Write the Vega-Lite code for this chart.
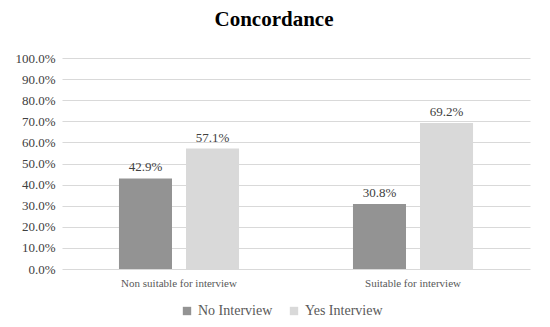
{
  "$schema": "https://vega.github.io/schema/vega-lite/v6.json",
  "width": 468,
  "height": 211,
  "autosize": {"type": "none"},
  "padding": {"left": 62, "top": 58, "right": 20, "bottom": 58},
  "background": "white",
  "title": {
    "text": "Concordance",
    "font": "Liberation Serif",
    "fontSize": 21,
    "fontWeight": "bold",
    "color": "#000000",
    "anchor": "middle",
    "dx": -22,
    "offset": 22
  },
  "data": {
    "values": [
      {"category": "Non suitable for interview", "series": "No Interview", "value": 0.429},
      {"category": "Non suitable for interview", "series": "Yes Interview", "value": 0.571},
      {"category": "Suitable for interview", "series": "No Interview", "value": 0.308},
      {"category": "Suitable for interview", "series": "Yes Interview", "value": 0.692}
    ]
  },
  "encoding": {
    "x": {
      "field": "category",
      "type": "nominal",
      "sort": null,
      "scale": {"paddingInner": 0, "paddingOuter": 0},
      "axis": {
        "title": null,
        "labelAngle": 0,
        "ticks": false,
        "domain": false,
        "labelFont": "Liberation Serif",
        "labelFontSize": 11,
        "labelColor": "#595959",
        "labelPadding": 8
      }
    },
    "xOffset": {
      "field": "series",
      "type": "nominal",
      "scale": {"paddingInner": 0.209, "paddingOuter": 0.85}
    },
    "y": {
      "field": "value",
      "type": "quantitative",
      "scale": {"domain": [0, 1]},
      "axis": {
        "title": null,
        "format": ".1%",
        "values": [0, 0.1, 0.2, 0.3, 0.4, 0.5, 0.6, 0.7, 0.8, 0.9, 1.0],
        "ticks": false,
        "domain": false,
        "gridColor": "#d9d9d9",
        "gridWidth": 1,
        "labelFont": "Liberation Serif",
        "labelFontSize": 13,
        "labelColor": "#404040",
        "labelPadding": 7
      }
    }
  },
  "layer": [
    {
      "mark": {"type": "bar"},
      "encoding": {
        "color": {
          "field": "series",
          "type": "nominal",
          "scale": {"domain": ["No Interview", "Yes Interview"], "range": ["#939393", "#d9d9d9"]},
          "legend": {
            "title": null,
            "orient": "none",
            "legendX": 118,
            "legendY": 246,
            "direction": "horizontal",
            "symbolType": "square",
            "symbolSize": 70,
            "symbolStrokeWidth": 0,
            "labelFont": "Liberation Serif",
            "labelFontSize": 14,
            "labelColor": "#595959",
            "columnPadding": 14
          }
        }
      }
    },
    {
      "mark": {
        "type": "text",
        "baseline": "bottom",
        "dy": -4,
        "font": "Liberation Serif",
        "fontSize": 13,
        "color": "#404040"
      },
      "encoding": {
        "text": {"field": "value", "type": "quantitative", "format": ".1%"}
      }
    }
  ],
  "config": {
    "view": {"stroke": null},
    "axisX": {"grid": false}
  }
}
